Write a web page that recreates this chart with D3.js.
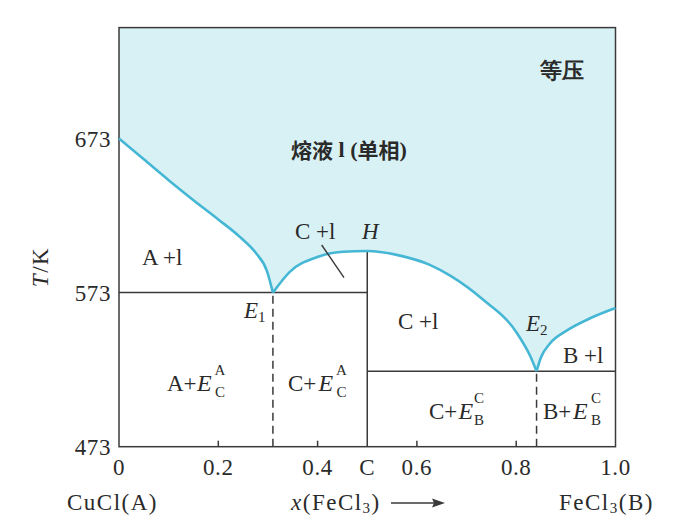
<!DOCTYPE html>
<html><head><meta charset="utf-8">
<script src="https://cdn.jsdelivr.net/npm/d3@7"></script>
<style>
html,body{margin:0;padding:0;background:#fff;}
svg{display:block;}
text{font-family:"Liberation Serif","Times New Roman",serif;fill:#2a2a2a;}
</style></head>
<body>
<svg id="c" width="687" height="524"></svg>
<script>
// ---- data ----
const xTickValues = [0, 0.2, 0.4, 0.5, 0.6, 0.8, 1.0];
const xTickLabels = ["0", "0.2", "0.4", "C", "0.6", "0.8", "1.0"];
const yTickValues = [473, 573, 673];
const yDomain = [473, 745];
// liquidus branches [x(FeCl3), T/K]
const liquidusA = [[0,673],[0.05,659.5],[0.1,646],[0.15,633],[0.2,620.5],[0.244,609],[0.275,599],[0.298,587],[0.31,573]];
const liquidusC = [[0.31,573],[0.344,586.5],[0.398,596],[0.451,599.5],[0.5,600],[0.566,597],[0.626,591],[0.667,584],[0.733,568.5],[0.801,547],[0.828,532],[0.841,522]];
const liquidusB = [[0.841,522],[0.85,531],[0.868,540],[0.9,548],[0.95,556.5],[1.0,563]];
const eutectic1 = {x:0.31, T:573};
const eutectic2 = {x:0.841, T:522};
const compoundC = {x:0.5, T:600};

// ---- scales ----
const svg = d3.select("#c");
const x = d3.scaleLinear().domain([0,1]).range([119, 615.5]);
const y = d3.scaleLinear().domain(yDomain).range([446.7, 27.6]);

const fillColor = "#d8f1f4";
const curveColor = "#45b7d5";
const axisColor = "#3a3a3a";

// ---- liquid region fill ----
const line = d3.line().x(d=>x(d[0])).y(d=>y(d[1])).curve(d3.curveMonotoneX);
let p = line(liquidusA) + line(liquidusC).replace(/^M/,"L") + line(liquidusB).replace(/^M/,"L");
p += "L" + x(1) + "," + y(yDomain[1]) + "L" + x(0) + "," + y(yDomain[1]) + "Z";
svg.append("path").attr("d", p).attr("fill", fillColor).attr("stroke","none");

// ---- phase boundary lines ----
const g = svg.append("g").attr("stroke", axisColor).attr("stroke-width",1.5).attr("fill","none");
g.append("line").attr("x1",x(0)).attr("x2",x(compoundC.x)).attr("y1",y(eutectic1.T)).attr("y2",y(eutectic1.T));
g.append("line").attr("x1",x(compoundC.x)).attr("x2",x(1)).attr("y1",y(eutectic2.T)).attr("y2",y(eutectic2.T));
g.append("line").attr("x1",x(compoundC.x)).attr("x2",x(compoundC.x)).attr("y1",y(yDomain[0])).attr("y2",y(compoundC.T));
g.append("line").attr("x1",x(eutectic1.x)).attr("x2",x(eutectic1.x)).attr("y1",y(yDomain[0])).attr("y2",y(eutectic1.T)).attr("stroke-dasharray","8,5");
g.append("line").attr("x1",x(eutectic2.x)).attr("x2",x(eutectic2.x)).attr("y1",y(yDomain[0])).attr("y2",y(eutectic2.T)).attr("stroke-dasharray","8,5");

// frame
g.append("rect").attr("x",x(0)).attr("y",y(yDomain[1])).attr("width",x(1)-x(0)).attr("height",y(yDomain[0])-y(yDomain[1]));

// x inner ticks
[0.2,0.4,0.6,0.8].forEach(v=>{
  g.append("line").attr("x1",x(v)).attr("x2",x(v)).attr("y1",y(yDomain[0])).attr("y2",y(yDomain[0])-6);
});

// liquidus curve
const cg = svg.append("g").attr("stroke",curveColor).attr("stroke-width",2.6).attr("fill","none").attr("stroke-linejoin","round");
[liquidusA, liquidusC, liquidusB].forEach(b=>cg.append("path").attr("d", line(b)));

// leader line for C+l
svg.append("line").attr("x1",321.7).attr("y1",245).attr("x2",344).attr("y2",277.7).attr("stroke",axisColor).attr("stroke-width",1.4);

// ---- tick labels ----
const FS = 23;
xTickValues.forEach((v,i)=>{
  svg.append("text").attr("x",x(v)).attr("y",467).attr("text-anchor","middle").attr("dominant-baseline","central")
    .attr("font-size",FS).attr("letter-spacing",0.6).text(xTickLabels[i]);
});
yTickValues.forEach(v=>{
  svg.append("text").attr("x",111).attr("y",y(v)+1).attr("text-anchor","end").attr("dominant-baseline","central")
    .attr("font-size",FS).attr("letter-spacing",0.6).text(v);
});

// y axis title T/K
const yt = svg.append("text").attr("transform","translate(40,267) rotate(-90)").attr("text-anchor","middle")
  .attr("dominant-baseline","central").attr("font-size",FS).attr("letter-spacing",1.5);
yt.append("tspan").attr("font-style","italic").text("T");
yt.append("tspan").text("/K");

// x axis titles
svg.append("text").attr("x",67).attr("y",502).attr("dominant-baseline","central").attr("font-size",FS).attr("letter-spacing",1.5).text("CuCl(A)");
const xt = svg.append("text").attr("x",291).attr("y",502).attr("dominant-baseline","central").attr("font-size",FS).attr("letter-spacing",1.5);
xt.append("tspan").attr("font-style","italic").text("x");
xt.append("tspan").text("(FeCl");
xt.append("tspan").attr("font-size",15).attr("dy",6).text("3");
xt.append("tspan").attr("dy",-6).text(")");
svg.append("line").attr("x1",391).attr("x2",436).attr("y1",503).attr("y2",503).attr("stroke",axisColor).attr("stroke-width",1.5);
svg.append("path").attr("d","M445,503 L432,498.5 L434,503 L432,507.5 Z").attr("fill",axisColor);
const bt = svg.append("text").attr("x",559).attr("y",502).attr("dominant-baseline","central").attr("font-size",FS).attr("letter-spacing",1.5);
bt.append("tspan").text("FeCl");
bt.append("tspan").attr("font-size",15).attr("dy",6).text("3");
bt.append("tspan").attr("dy",-6).text("(B)");

// ---- region labels ----
function lab(txt, xs, yc, opts={}){
  const t = svg.append("text").attr("x",xs).attr("y",yc).attr("dominant-baseline","central")
    .attr("font-size",opts.fs||FS).attr("text-anchor",opts.anchor||"start");
  if(opts.italic) t.attr("font-style","italic");
  t.text(txt);
  return t;
}
lab("A +l", 142, 257);
lab("C +l", 295, 231);
lab("H", 362, 231, {italic:true});
lab("C +l", 398, 321);
lab("B +l", 563, 355);

// E1, E2
const e1 = svg.append("text").attr("x",244).attr("y",310).attr("dominant-baseline","central").attr("font-size",FS);
e1.append("tspan").attr("font-style","italic").text("E");
e1.append("tspan").attr("font-size",15).attr("dy",7).text("1");
const e2 = svg.append("text").attr("x",526).attr("y",323).attr("dominant-baseline","central").attr("font-size",FS);
e2.append("tspan").attr("font-style","italic").text("E");
e2.append("tspan").attr("font-size",15).attr("dy",7).text("2");

// phase + eutectic-mixture labels
function mix(pre, xPre, xE, xSS, yc, sup, sub){
  lab(pre, xPre, yc);
  lab("E", xE, yc, {fs:24, italic:true});
  lab(sup, xSS, yc-13, {fs:15, anchor:"middle"});
  lab(sub, xSS, yc+9, {fs:15, anchor:"middle"});
}
mix("A+", 167, 197, 220, 383, "A", "C");
mix("C+", 288, 318.5, 341.5, 383, "A", "C");
mix("C+", 429, 458.5, 479, 411, "C", "B");
mix("B+", 543, 573, 596, 411, "C", "B");

// Chinese labels
const cjk = '"Noto Sans CJK SC","Noto Sans CJK JP",sans-serif';
const m = svg.append("text").attr("x",349).attr("y",149).attr("text-anchor","middle").attr("dominant-baseline","central")
  .attr("font-size",21).attr("font-weight","bold");
m.append("tspan").attr("font-family",cjk).text("熔液");
m.append("tspan").attr("font-family","Liberation Serif").attr("font-size",22).text(" l (");
m.append("tspan").attr("font-family",cjk).text("单相");
m.append("tspan").attr("font-family","Liberation Serif").attr("font-size",22).text(")");
svg.append("text").attr("x",562).attr("y",70).attr("text-anchor","middle").attr("dominant-baseline","central")
  .attr("font-size",22).attr("font-weight","bold").attr("font-family",cjk).text("等压");
</script>
</body></html>
